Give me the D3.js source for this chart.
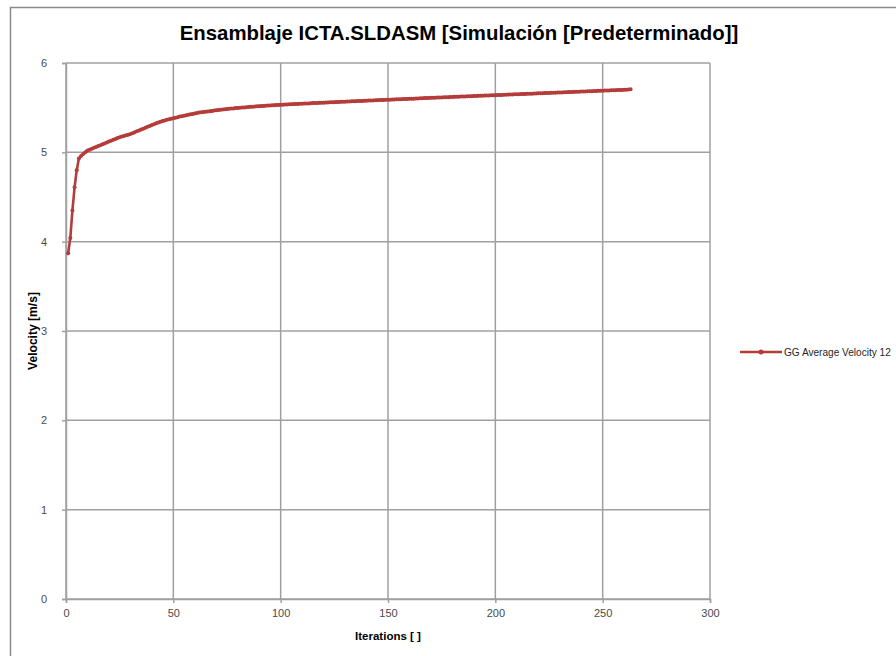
<!DOCTYPE html>
<html>
<head>
<meta charset="utf-8">
<script src="https://cdn.jsdelivr.net/npm/d3@7"></script>
<style>
  body { margin: 0; background: #fff; }
  svg text { font-family: "Liberation Sans", "DejaVu Sans", sans-serif; }
</style>
</head>
<body>
<div id="chart"></div>
<script>
// data: GG Average Velocity 12, one value per iteration (starting at 1)
var velocity = [
  3.87, 4.04, 4.35, 4.61, 4.80, 4.93, 4.96, 4.98, 5.00, 5.02, 5.03, 5.04,
  5.05, 5.06, 5.07, 5.08, 5.09, 5.10, 5.11, 5.12,
  5.13, 5.14, 5.15, 5.16, 5.17, 5.177, 5.184, 5.191, 5.198, 5.206,
  5.215, 5.225, 5.235, 5.245, 5.255, 5.265, 5.275, 5.285, 5.295, 5.305,
  5.315, 5.325, 5.334, 5.342, 5.35, 5.357, 5.364, 5.37, 5.376, 5.382,
  5.388, 5.394, 5.40, 5.405, 5.41, 5.415, 5.42, 5.425, 5.43, 5.435,
  5.44, 5.445, 5.449, 5.452, 5.455, 5.458, 5.461, 5.464, 5.467, 5.47,
  5.473, 5.476, 5.479, 5.482, 5.485, 5.488, 5.49, 5.492, 5.495, 5.497,
  5.499, 5.501, 5.503, 5.505, 5.507, 5.509, 5.511, 5.513, 5.515, 5.517,
  5.518, 5.52, 5.522, 5.523, 5.525, 5.526, 5.528, 5.529, 5.531, 5.532,
  5.533, 5.535, 5.536, 5.537, 5.539, 5.54, 5.541, 5.542, 5.544, 5.545,
  5.546, 5.547, 5.548, 5.549, 5.551, 5.552, 5.553, 5.554, 5.555, 5.556,
  5.557, 5.558, 5.56, 5.561, 5.562, 5.563, 5.564, 5.565, 5.566, 5.567,
  5.568, 5.569, 5.571, 5.572, 5.573, 5.574, 5.575, 5.576, 5.577, 5.578,
  5.579, 5.58, 5.581, 5.583, 5.584, 5.585, 5.586, 5.587, 5.588, 5.589,
  5.59, 5.591, 5.592, 5.593, 5.594, 5.595, 5.596, 5.597, 5.598, 5.599,
  5.60, 5.601, 5.602, 5.603, 5.605, 5.606, 5.607, 5.608, 5.609, 5.61,
  5.611, 5.612, 5.613, 5.614, 5.615, 5.616, 5.617, 5.618, 5.619, 5.62,
  5.621, 5.622, 5.623, 5.624, 5.625, 5.626, 5.627, 5.628, 5.629, 5.63,
  5.631, 5.632, 5.633, 5.634, 5.635, 5.636, 5.637, 5.638, 5.639, 5.64,
  5.641, 5.642, 5.643, 5.644, 5.645, 5.646, 5.647, 5.648, 5.649, 5.65,
  5.651, 5.652, 5.653, 5.654, 5.655, 5.656, 5.657, 5.658, 5.659, 5.66,
  5.661, 5.662, 5.663, 5.664, 5.665, 5.666, 5.667, 5.668, 5.669, 5.67,
  5.671, 5.672, 5.673, 5.674, 5.675, 5.676, 5.677, 5.678, 5.679, 5.68,
  5.681, 5.682, 5.683, 5.684, 5.685, 5.686, 5.687, 5.688, 5.689, 5.69,
  5.691, 5.692, 5.693, 5.694, 5.695, 5.696, 5.697, 5.698, 5.699, 5.70,
  5.701, 5.703, 5.705
]
var xTicks = [0, 50, 100, 150, 200, 250, 300]
var yTicks = [0, 1, 2, 3, 4, 5, 6]
var title = 'Ensamblaje ICTA.SLDASM [Simulación [Predeterminado]]'
var xTitle = 'Iterations [ ]'
var yTitle = 'Velocity [m/s]'
var seriesName = 'GG Average Velocity 12'

var width = 896,
    height = 656
var margin = { top: 63, left: 66, right: 186, bottom: 57 }
var innerW = width - margin.left - margin.right
var innerH = height - margin.top - margin.bottom
var red = '#b43c3a'
var grid = '#a0a0a0'

var data = velocity.map(function(v, i) { return { it: i + 1, v: v } })

var svg = d3.select('#chart')
  .append('svg')
  .attr('width', width)
  .attr('height', height)

// outer chart frame
svg.append('rect')
  .attr('x', 10.5).attr('y', 7.5)
  .attr('width', width + 20).attr('height', height + 20)
  .attr('fill', 'none')
  .attr('stroke', '#8a8a8a')
  .attr('stroke-width', 1.5)

var g = svg.append('g')
  .attr('transform', 'translate(' + margin.left + ',' + margin.top + ')')

var xScale = d3.scaleLinear().domain([0, 300]).range([0, innerW])
var yScale = d3.scaleLinear().domain([0, 6]).range([innerH, 0])

// grid
g.append('g')
  .selectAll('line')
  .data(yTicks)
  .enter().append('line')
  .attr('x1', 0).attr('x2', innerW)
  .attr('y1', function(d) { return yScale(d) })
  .attr('y2', function(d) { return yScale(d) })
  .attr('stroke', grid).attr('stroke-width', 1.5)

g.append('g')
  .selectAll('line')
  .data(xTicks)
  .enter().append('line')
  .attr('y1', 0).attr('y2', innerH)
  .attr('x1', function(d) { return xScale(d) })
  .attr('x2', function(d) { return xScale(d) })
  .attr('stroke', grid).attr('stroke-width', 1.5)

// axes
var xAxis = g.append('g')
  .attr('transform', 'translate(0,' + innerH + ')')
  .call(d3.axisBottom(xScale).tickValues(xTicks).tickFormat(d3.format('d')).tickSize(4).tickPadding(6))
var yAxis = g.append('g')
  .call(d3.axisLeft(yScale).tickValues(yTicks).tickFormat(d3.format('d')).tickSize(4).tickPadding(15))

;[xAxis, yAxis].forEach(function(ax) {
  ax.select('.domain').attr('stroke', grid).attr('stroke-width', 1.5)
  ax.selectAll('.tick line').attr('stroke', grid).attr('stroke-width', 1.5)
  ax.selectAll('.tick text')
    .attr('fill', '#4a4a4a')
    .style('font-size', '11px')
})

// series
var line = d3.line()
  .x(function(d) { return xScale(d.it) })
  .y(function(d) { return yScale(d.v) })

g.append('path')
  .datum(data)
  .attr('d', line)
  .attr('fill', 'none')
  .attr('stroke', red)
  .attr('stroke-width', 2.6)
  .attr('stroke-linejoin', 'round')

g.selectAll('.dot')
  .data(data)
  .enter().append('circle')
  .attr('class', 'dot')
  .attr('cx', function(d) { return xScale(d.it) })
  .attr('cy', function(d) { return yScale(d.v) })
  .attr('r', 2)
  .attr('fill', red)

// fit text to a target width
function fit(sel, w) {
  var len = sel.node().getComputedTextLength()
  var fs = parseFloat(sel.style('font-size'))
  sel.style('font-size', (fs * w / len) + 'px')
}

var t = svg.append('text')
  .attr('x', 459).attr('y', 40)
  .attr('text-anchor', 'middle')
  .style('font-size', '20px')
  .style('font-weight', 'bold')
  .attr('fill', '#000')
  .text(title)
fit(t, 559)

var xt = svg.append('text')
  .attr('x', margin.left + innerW / 2).attr('y', 640)
  .attr('text-anchor', 'middle')
  .style('font-size', '11px')
  .style('font-weight', 'bold')
  .attr('fill', '#000')
  .text(xTitle)
fit(xt, 66)

var yt = svg.append('text')
  .attr('transform', 'translate(37,' + (margin.top + innerH / 2) + ') rotate(-90)')
  .attr('text-anchor', 'middle')
  .style('font-size', '11px')
  .style('font-weight', 'bold')
  .attr('fill', '#000')
  .text(yTitle)
fit(yt, 78)

// legend
var leg = svg.append('g').attr('transform', 'translate(740,352)')
leg.append('line')
  .attr('x1', 0).attr('x2', 42)
  .attr('stroke', red).attr('stroke-width', 2.6)
leg.append('circle').attr('cx', 21).attr('r', 2.5).attr('fill', red)
var lt = leg.append('text')
  .attr('x', 44).attr('y', 4)
  .style('font-size', '11.5px')
  .attr('fill', '#262626')
  .text(seriesName)
fit(lt, 107)
</script>
</body>
</html>
